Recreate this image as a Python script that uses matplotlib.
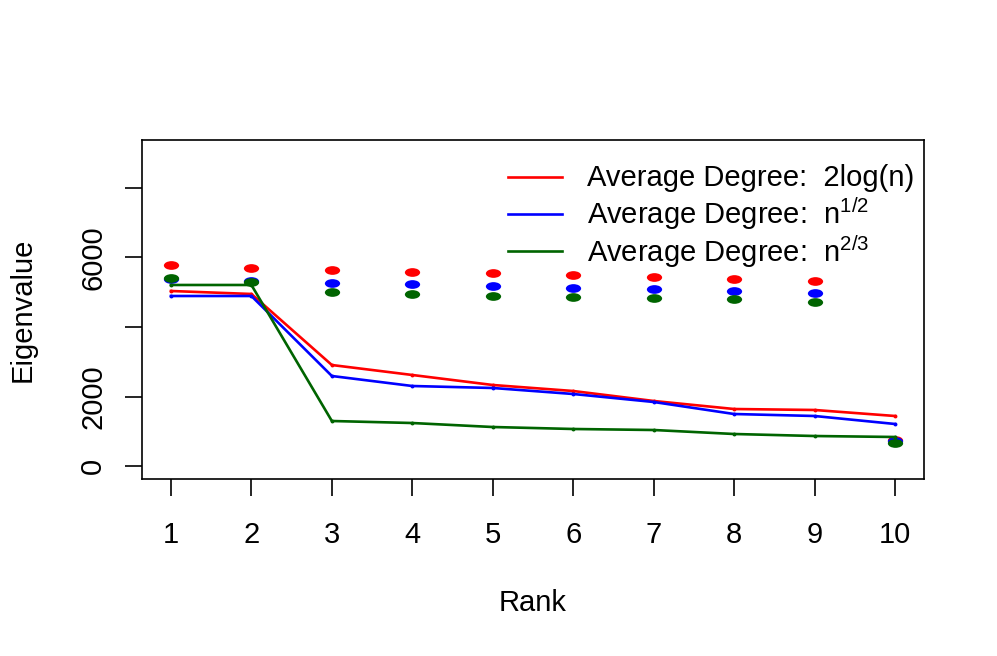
import numpy as np
import matplotlib
matplotlib.use("Agg")
import matplotlib.pyplot as plt
from matplotlib.path import Path
from matplotlib.lines import Line2D

plt.rcParams['font.family'] = ['Liberation Sans', 'DejaVu Sans']
plt.rcParams['mathtext.fontset'] = 'custom'
plt.rcParams['mathtext.rm'] = 'Liberation Sans'
plt.rcParams['mathtext.it'] = 'Liberation Sans'

# data
rank = np.arange(1, 11)

line_2log = [5036, 4950, 2906, 2619, 2331, 2158, 1871, 1640, 1612, 1439]
line_sqrt = [4892, 4892, 2590, 2302, 2245, 2072, 1842, 1496, 1439, 1209]
line_23 = [5209, 5209, 1295, 1237, 1122, 1065, 1036, 921, 863, 835]

dots_2log = [5784, 5698, 5640, 5583, 5554, 5496, 5439, 5381, 5324, 748]
dots_sqrt = [5381, 5324, 5266, 5237, 5180, 5122, 5094, 5036, 4978, 719]
dots_23 = [5410, 5295, 5007, 4950, 4892, 4863, 4835, 4806, 4719, 662]

labels = ['Average Degree:  2log(n)',
          'Average Degree:  $\\mathregular{n^{1/2}}$',
          'Average Degree:  $\\mathregular{n^{2/3}}$']
colors = ['#FF0000', '#0000FF', '#006400']

yticks = [0, 2000, 4000, 6000, 8000]
ytick_labels = ['0', '2000', '', '6000', '']

FS = 21
W, H = 997, 656

fig = plt.figure(figsize=(9.97, 6.56), dpi=100)
ax = fig.add_axes([142/W, 1-479/H, (924-142)/W, (479-140)/H])

# flat ellipse marker for the points
circ = Path.unit_circle()
ellipse = Path(circ.vertices * np.array([1.0, 0.57]), circ.codes)

for d, c in zip([dots_2log, dots_sqrt, dots_23], colors):
    ax.plot(rank, d, ls='none', marker=ellipse, markersize=11, markeredgewidth=0, color=c)

for l, c in zip([line_2log, line_sqrt, line_23], colors):
    ax.plot(rank, l, color=c, lw=1.9, marker='o', markersize=1.8)

ax.set_xlim(0.64, 10.36)
ax.set_ylim(-374, 9381)
ax.set_xticks(rank)
ax.set_yticks(yticks)
ax.set_yticklabels(ytick_labels, rotation=90, va='center')
ax.tick_params(labelsize=FS, length=12, width=1.2)
ax.tick_params(axis='x', pad=18)
ax.tick_params(axis='y', pad=13)
for s in ax.spines.values():
    s.set_linewidth(1.2)

ax.set_xlabel('Rank', fontsize=FS, labelpad=29)
ax.set_ylabel('Eigenvalue', fontsize=FS, labelpad=31)

# legend without box, rows placed like R's legend()
line_y = [177, 214, 251]
text_base = [186, 224, 262]
for i, (c, lab) in enumerate(zip(colors, labels)):
    fig.add_artist(Line2D([508/W, 562/W], [1-line_y[i]/H, 1-line_y[i]/H], color=c, lw=1.9))
    fig.text(587/W, 1-text_base[i]/H, lab, fontsize=FS, va='baseline', ha='left')

fig.savefig('out.png', dpi=100)
